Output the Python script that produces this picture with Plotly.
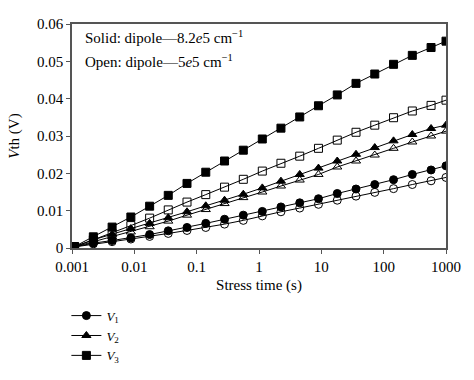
import plotly.graph_objects as go

stress_time = [0.0011, 0.0022, 0.0044, 0.0088, 0.0176, 0.035, 0.07, 0.14, 0.28, 0.56,
               1.13, 2.25, 4.5, 9.0, 18.0, 36.0, 72.0, 144.0, 288.0, 576.0, 1000.0]

v1_solid = [0.0003, 0.0013, 0.0020, 0.0027, 0.0036, 0.0046, 0.0055, 0.0066, 0.0077, 0.0088,
            0.0098, 0.0110, 0.0121, 0.0132, 0.0146, 0.0158, 0.0170, 0.0183, 0.0197, 0.0209, 0.0220]
v1_open = [0.0003, 0.0011, 0.0017, 0.0024, 0.0031, 0.0039, 0.0047, 0.0055, 0.0064, 0.0074,
           0.0086, 0.0097, 0.0107, 0.0117, 0.0128, 0.0139, 0.0149, 0.0159, 0.0170, 0.0180, 0.0189]
v2_solid = [0.0004, 0.0022, 0.0037, 0.0052, 0.0066, 0.0081, 0.0097, 0.0113, 0.0128, 0.0144,
            0.0161, 0.0179, 0.0197, 0.0214, 0.0233, 0.0251, 0.0269, 0.0287, 0.0304, 0.0320, 0.0329]
v2_open = [0.0003, 0.0017, 0.0030, 0.0043, 0.0057, 0.0072, 0.0088, 0.0103, 0.0119, 0.0135,
           0.0150, 0.0166, 0.0182, 0.0197, 0.0217, 0.0233, 0.0249, 0.0267, 0.0284, 0.0300, 0.0313]
v3_solid = [0.0004, 0.0030, 0.0056, 0.0083, 0.0112, 0.0141, 0.0173, 0.0203, 0.0233, 0.0262,
            0.0292, 0.0321, 0.0351, 0.0381, 0.0410, 0.0441, 0.0466, 0.0492, 0.0516, 0.0537, 0.0554]
v3_open = [0.0003, 0.0022, 0.0039, 0.0060, 0.0080, 0.0102, 0.0123, 0.0143, 0.0163, 0.0184,
           0.0206, 0.0227, 0.0246, 0.0267, 0.0289, 0.0310, 0.0329, 0.0349, 0.0367, 0.0382, 0.0396]

x_tick_vals = [0.001, 0.01, 0.1, 1, 10, 100, 1000]
x_tick_text = ["0.001", "0.01", "0.1", "1", "10", "100", "1000"]
y_tick_vals = [0, 0.01, 0.02, 0.03, 0.04, 0.05, 0.06]
y_tick_text = ["0", "0.01", "0.02", "0.03", "0.04", "0.05", "0.06"]

FONT = "Liberation Serif, DejaVu Serif, Times New Roman, serif"
fig = go.Figure()

series = [
    (v1_open, "circle-open", None, False),
    (v2_open, "triangle-up-open", None, False),
    (v3_open, "square-open", None, False),
    (v1_solid, "circle", "<i>V</i><sub>1</sub>", True),
    (v2_solid, "triangle-up", "<i>V</i><sub>2</sub>", True),
    (v3_solid, "square", "<i>V</i><sub>3</sub>", True),
]
for ys, sym, name, show in series:
    fig.add_trace(go.Scatter(
        x=stress_time, y=ys, mode="lines+markers", name=name or "",
        showlegend=show,
        line=dict(color="black", width=1),
        marker=dict(symbol=sym, size=8, color="black",
                    line=dict(color="black", width=1)),
    ))

fig.update_layout(
    width=474, height=380,
    margin=dict(l=72, r=28, t=24, b=132, autoexpand=False),
    paper_bgcolor="white", plot_bgcolor="white",
    font=dict(family=FONT, size=14, color="black"),
    legend=dict(x=-0.015, y=-0.235, xanchor="left", yanchor="top",
                traceorder="normal", tracegroupgap=0,
                font=dict(family=FONT, size=13), itemwidth=30,
                bgcolor="rgba(0,0,0,0)"),
    xaxis=dict(type="log", range=[-3, 3], tickvals=x_tick_vals, ticktext=x_tick_text,
               showgrid=False, zeroline=False, showline=True, linecolor="#555",
               linewidth=1.5, mirror=True, ticks="outside", ticklen=4, tickcolor="#555",
               automargin=False, tickfont=dict(family=FONT, size=15),
               title=dict(text="Stress time (s)", font=dict(family=FONT, size=15), standoff=6)),
    yaxis=dict(range=[0, 0.06], tickvals=y_tick_vals, ticktext=y_tick_text,
               showgrid=False, zeroline=False, showline=True, linecolor="#555",
               linewidth=1.5, mirror=True, ticks="outside", ticklen=4, tickcolor="#555",
               automargin=False, tickfont=dict(family=FONT, size=15),
               title=dict(text="<i>V</i>th (V)", font=dict(family=FONT, size=15), standoff=14)),
    annotations=[
        dict(x=0.03, y=0.942, xref="paper", yref="paper", xanchor="left", yanchor="middle",
             showarrow=False, align="left",
             text="Solid: dipole—8.2<i>e</i>5 cm<sup>−1</sup>",
             font=dict(family=FONT, size=15)),
        dict(x=0.03, y=0.835, xref="paper", yref="paper", xanchor="left", yanchor="middle",
             showarrow=False, align="left",
             text="Open: dipole—5<i>e</i>5 cm<sup>−1</sup>",
             font=dict(family=FONT, size=15)),
    ],
)

fig.write_html("out.html", config={"displayModeBar": False},
               post_script="document.body.style.margin='0px';")
